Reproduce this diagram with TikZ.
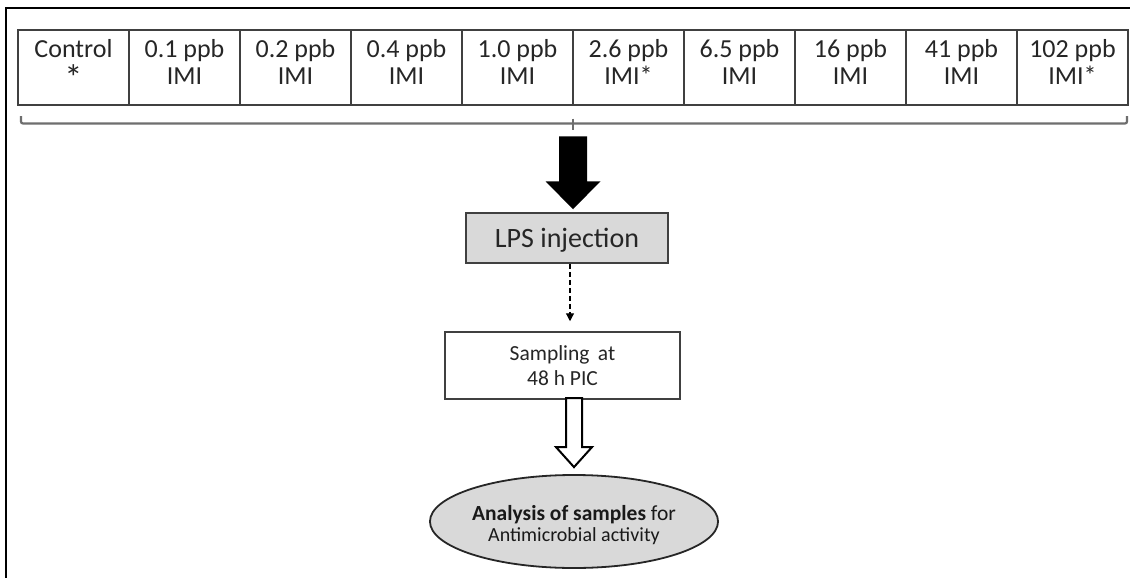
\documentclass[tikz,border=0pt]{standalone}
\usepackage{fontspec}
\setmainfont{Carlito}
\usetikzlibrary{shapes.geometric,calc,arrows.meta}
\definecolor{boxgray}{HTML}{D9D9D9}
\definecolor{txt}{HTML}{262626}
\definecolor{linegray}{HTML}{404040}
\definecolor{bracegray}{HTML}{6E6E6E}
\newcommand\celldp{\rule[-12pt]{0pt}{0pt}}
\begin{document}
\begin{tikzpicture}[x=1pt,y=-1pt,
  cell/.style={draw=linegray, line width=1.5pt, minimum width=111pt, minimum height=75pt,
    inner sep=0pt, fill=white, text=txt, align=center, font=\fontsize{26}{27}\selectfont},
  lpsbox/.style={draw=linegray, line width=1.5pt, fill=boxgray, minimum width=202pt,
    minimum height=50pt, inner sep=0pt, text height=18pt, text depth=0pt, text=txt,
    font=\fontsize{28}{30}\selectfont},
  sampbox/.style={draw=linegray, line width=1.5pt, fill=white, minimum width=235pt,
    minimum height=67pt, inner sep=0pt, align=center, text=txt,
    font=\fontsize{21.5}{25}\selectfont},
  ellbox/.style={ellipse, draw=black!85, line width=1.8pt, fill=boxgray, minimum width=278pt,
    minimum height=93pt, inner sep=0pt, align=center, text=black!90,
    font=\fontsize{21.5}{21}\selectfont},
  bracelin/.style={draw=bracegray, line width=2.2pt},
]
\useasboundingbox (0,0) rectangle (1130,578);
\fill[white] (0,0) rectangle (1130,578);
% outer frame (cropped at right and bottom)
\draw[line width=2pt, line cap=rect] (6,578) -- (6,8) -- (1130,8);

% table
\foreach \i/\t in {0/{Control\\\raisebox{-6pt}{\scalebox{1.4}{*}}\celldp},
                   1/{0.1 ppb\\IMI\celldp},
                   2/{0.2 ppb\\IMI\celldp},
                   3/{0.4 ppb\\IMI\celldp},
                   4/{1.0 ppb\\IMI\celldp},
                   5/{2.6 ppb\\IMI*\celldp},
                   6/{6.5 ppb\\IMI\celldp},
                   7/{16 ppb\\IMI\celldp},
                   8/{41 ppb\\IMI\celldp},
                   9/{102 ppb\\IMI*\celldp}}{
  \node[cell] (c\i) at (73.5+111*\i, 67.5) {\t};
}

% brace under the table
\coordinate (bl) at (21,116);
\coordinate (br) at (1127,116);
\coordinate (bm) at (573,123.5);
\draw[bracelin, rounded corners=2pt] (bl) -- (bl |- bm) -- (br |- bm) -- (br);
\draw[draw=bracegray, line width=1.2pt] ($(bm)+(0,-5)$) -- ($(bm)+(0,6)$);

% boxes
\node[lpsbox] (lps) at (567,238) {LPS injection};
\node[sampbox] (samp) at (562.5,365.5) {Sampling\, at\\48 h PIC};
\node[ellbox] (ell) at (574,521.5)
  {\rule{0pt}{23pt}\textbf{Analysis of samples} for\\{\fontsize{20}{21}\selectfont Antimicrobial activity}};

% big black arrow from brace to LPS box
\coordinate (t1) at ($(lps.north -| bm)+(0,-3)$);
\fill[black, shift={(t1)}] (0,0) -- (-27.5,-28) -- (-14,-28) -- (-14,-73) -- (14,-73)
  -- (14,-28) -- (27.5,-28) -- cycle;

% dashed arrow
\coordinate (d1) at ($(lps.south)+(3,0)$);
\coordinate (d2) at ($(d1 |- samp.north)+(0,-10)$);
\draw[line width=1.2pt, dash pattern=on 5pt off 3pt,
  -{Triangle[length=8pt,width=8pt]}] (d1) -- (d2);

% hollow arrow
\coordinate (t2) at ($(ell.north)+(0,-7)$);
\draw[line width=2pt, fill=white, line join=miter, shift={(t2)}] (0,0) -- (-18,-20) -- (-8,-20)
  -- (-8,-69) -- (8,-69) -- (8,-20) -- (18,-20) -- cycle;
\end{tikzpicture}
\end{document}
